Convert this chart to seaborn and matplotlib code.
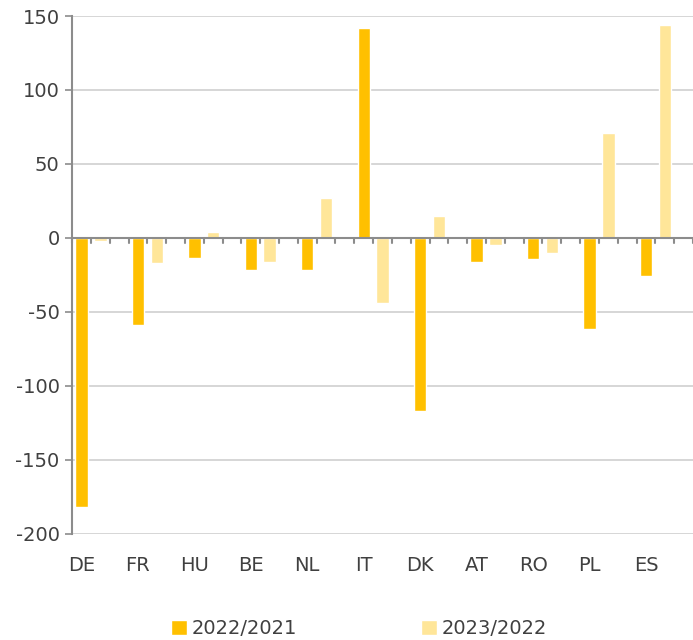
import numpy as np
import pandas as pd
import matplotlib.pyplot as plt
import seaborn as sns
from matplotlib.patches import Patch

# Data
countries = ["DE", "FR", "HU", "BE", "NL", "IT", "DK", "AT", "RO", "PL", "ES"]
change_2022 = [-182, -59, -13.5, -21.5, -22, 142, -117, -16, -14.5, -61.5, -25.5]
change_2023 = [-2, -17, 4, -16, 27, -44, 15, -4.5, -10.5, 71, 144]
series = ["2022/2021", "2023/2022"]

df = pd.DataFrame({
    "country": countries * 2,
    "series": [series[0]] * len(countries) + [series[1]] * len(countries),
    "value": change_2022 + change_2023,
})

colors = ["#FFC000", "#FFE699"]
text_color = "#404040"

sns.set_style("white")
plt.rcParams["font.family"] = ["DejaVu Sans"]
plt.rcParams["axes.unicode_minus"] = False

fig = plt.figure(figsize=(6.93, 6.4), dpi=100)
ax = fig.add_axes([0.104, 0.166, 0.896, 0.809])

sns.barplot(
    data=df, x="country", y="value", hue="series",
    order=countries, hue_order=series, palette=colors, saturation=1,
    width=2/3, gap=0.34, ax=ax, legend=False, zorder=3,
)

n = len(countries)
ax.set_xlim(-1/3, n - 1/3)
ax.set_ylim(-200, 150)
ax.set_yticks(np.arange(-200, 151, 50))
ax.yaxis.grid(True, color="#d0d0d0", linewidth=1.2, zorder=0)

# zero line with small tick marks between slots
ax.axhline(0, color="#8c8c8c", linewidth=1.5, zorder=4)
for xb in np.arange(-1/3, n - 1/3 + 0.01, 1/3):
    ax.plot([xb, xb], [0, -3.5], color="#8c8c8c", linewidth=1.5, zorder=2,
            clip_on=False)

# country labels under the bottom gridline, centered on the first bar
ax.set_xticks(np.arange(n) - 1/6)
ax.set_xticklabels(countries)
ax.tick_params(axis="x", length=0, pad=16, labelsize=14, labelcolor=text_color)
ax.tick_params(axis="y", length=5, width=1.2, color="#8c8c8c", pad=4,
               labelsize=14, labelcolor=text_color, left=True)
ax.set_xlabel("")
ax.set_ylabel("")

for side in ["top", "right", "bottom"]:
    ax.spines[side].set_visible(False)
ax.spines["left"].set_color("#8c8c8c")
ax.spines["left"].set_linewidth(1.5)

handles = [Patch(facecolor=c, label=s) for c, s in zip(colors, series)]
fig.legend(handles=handles, loc="lower center", bbox_to_anchor=(0.518, -0.025),
           ncol=2, frameon=False, fontsize=14, handlelength=0.8,
           handleheight=0.8, handletextpad=0.25, columnspacing=6.4,
           labelcolor=text_color)

fig.savefig("out.png", dpi=100)
